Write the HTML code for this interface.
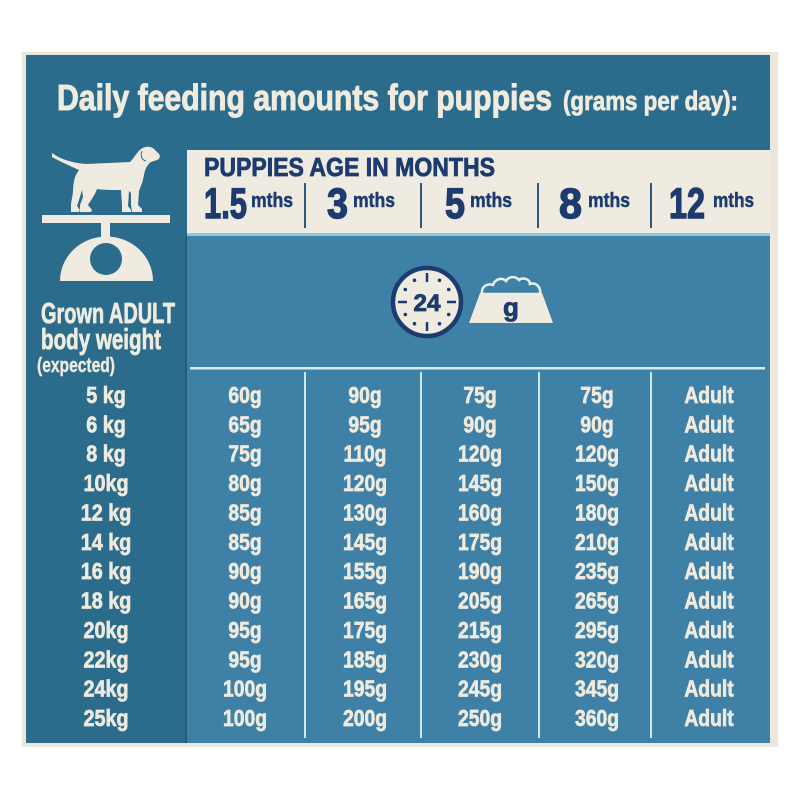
<!DOCTYPE html>
<html><head><meta charset="utf-8"><style>
html,body{margin:0;padding:0;background:#fff;}
svg{display:block;}
text{font-family:"Liberation Sans",sans-serif;font-weight:bold;}
</style></head><body>
<svg width="800" height="800" viewBox="0 0 800 800" xmlns="http://www.w3.org/2000/svg">
<rect x="0" y="0" width="800" height="800" fill="#ffffff"/>
<rect x="22" y="52" width="756" height="695" fill="#ebe7da"/>
<rect x="26" y="55" width="744" height="688" fill="#2b6b8c"/>
<rect x="187" y="235" width="583" height="508" fill="#3f80a7"/>
<rect x="185" y="235" width="2" height="508" fill="#245d7b"/>
<rect x="187" y="150" width="583" height="86" fill="#efebe0"/>
<rect x="187" y="233" width="583" height="3" fill="#8fc6d8"/>

<g fill="#efebdf" stroke="#efebdf" stroke-width="1">
<text x="57" y="110" font-size="36" textLength="495" lengthAdjust="spacingAndGlyphs">Daily feeding amounts for puppies</text>
<text x="563" y="110" font-size="27" stroke-width="0.8" textLength="175" lengthAdjust="spacingAndGlyphs">(grams per day):</text>
</g>

<g fill="#1c3b6f" stroke="#1c3b6f" stroke-width="0.8">
<text x="204" y="176" font-size="26" textLength="291" lengthAdjust="spacingAndGlyphs">PUPPIES AGE IN MONTHS</text>
<text x="204" y="218" font-size="43" stroke-width="1.4" textLength="43" lengthAdjust="spacingAndGlyphs">1.5</text>
<text x="251" y="207" font-size="20" stroke-width="0.5" textLength="42" lengthAdjust="spacingAndGlyphs">mths</text>
<text x="327" y="218" font-size="43" stroke-width="1.4" textLength="21" lengthAdjust="spacingAndGlyphs">3</text>
<text x="353" y="207" font-size="20" stroke-width="0.5" textLength="42" lengthAdjust="spacingAndGlyphs">mths</text>
<text x="445" y="218" font-size="43" stroke-width="1.4" textLength="20" lengthAdjust="spacingAndGlyphs">5</text>
<text x="470" y="207" font-size="20" stroke-width="0.5" textLength="42" lengthAdjust="spacingAndGlyphs">mths</text>
<text x="559" y="218" font-size="43" stroke-width="1.4" textLength="23" lengthAdjust="spacingAndGlyphs">8</text>
<text x="588" y="207" font-size="20" stroke-width="0.5" textLength="42" lengthAdjust="spacingAndGlyphs">mths</text>
<text x="669" y="218" font-size="43" stroke-width="1.4" textLength="36" lengthAdjust="spacingAndGlyphs">12</text>
<text x="713" y="207" font-size="20" stroke-width="0.5" textLength="41" lengthAdjust="spacingAndGlyphs">mths</text>
</g>
<g stroke="#2b5a7e" stroke-width="2">
<line x1="305" y1="183" x2="305" y2="228"/>
<line x1="421" y1="183" x2="421" y2="228"/>
<line x1="538" y1="183" x2="538" y2="228"/>
<line x1="651" y1="183" x2="651" y2="228"/>
</g>

<!-- dog and scale -->
<path fill="#efebe0" d="M52,153 C60,159 72,163 86,164 L130,162 C134,158 137,152 141,149 C145,146 151,146 154,149 L158,153 C161,155 160,159 157,160 L151,162 C147,165 145,169 144,175 C143,181 141,186 139,191 L138,205 L142,209 L142,212 L132,212 L131,205 L131,193 L129,191 L128,206 L131,210 L131,212 L122,212 L122,205 L121,190 C112,190 104,190 97,189 C95,195 91,200 88,205 L92,210 L91,212 L80,212 L80,205 L83,197 L82,190 L79,200 L77,206 L80,210 L79,212 L71,212 L71,204 L73,192 C73,182 75,175 79,170 C70,166 59,161 52,157 Z"/>
<path d="M142,151 C140,156 142,160 146,161" stroke="#2b6b8c" stroke-width="1" fill="none"/>
<rect x="42" y="215" width="128" height="8" fill="#efebe0"/>
<rect x="101" y="222" width="9" height="16" fill="#efebe0"/>
<path d="M60,281 A46,44 0 0 1 153,281 Z" fill="#efebe0"/>
<circle cx="106" cy="259" r="16" fill="#2b6b8c"/>

<g fill="#efebdf" stroke="#efebdf" stroke-width="0.8">
<text x="41" y="323" font-size="29" textLength="134" lengthAdjust="spacingAndGlyphs">Grown ADULT</text>
<text x="41" y="349" font-size="29" textLength="120" lengthAdjust="spacingAndGlyphs">body weight</text>
<text x="37" y="372" font-size="20" stroke-width="0.4" textLength="78" lengthAdjust="spacingAndGlyphs">(expected)</text>
</g>

<!-- clock -->
<circle cx="427" cy="302" r="34" fill="#efebe0" stroke="#1c3b6f" stroke-width="4.5"/>
<g stroke="#1c3b6f" stroke-width="2.5">
<line x1="427" y1="273" x2="427" y2="282"/>
<line x1="427" y1="322" x2="427" y2="331"/>
<line x1="398" y1="302" x2="407" y2="302"/>
<line x1="447" y1="302" x2="456" y2="302"/>
</g>
<g fill="#1c3b6f">
<circle cx="439.5" cy="280.3" r="1.8"/><circle cx="448.7" cy="289.5" r="1.8"/>
<circle cx="448.7" cy="314.5" r="1.8"/><circle cx="439.5" cy="323.7" r="1.8"/>
<circle cx="414.5" cy="323.7" r="1.8"/><circle cx="405.3" cy="314.5" r="1.8"/>
<circle cx="405.3" cy="289.5" r="1.8"/><circle cx="414.5" cy="280.3" r="1.8"/>
<text x="427" y="311" font-size="24" text-anchor="middle" stroke="#1c3b6f" stroke-width="0.8" textLength="27" lengthAdjust="spacingAndGlyphs">24</text>
</g>

<!-- bowl -->
<path d="M482,294 C481,286 488,283 493,285 C495,279 502,277 506,281 C509,276 516,276 519,280 C523,277 530,279 530,284 C536,282 541,287 540,294 Z" fill="#3f80a7" stroke="#e6f1f0" stroke-width="2.5"/>
<polygon points="480,293 542,293 553,323 469,323" fill="#efebe0"/>
<text x="511" y="316" font-size="26" fill="#1c3b6f" stroke="#1c3b6f" stroke-width="0.8" text-anchor="middle">g</text>

<!-- table lines -->
<rect x="190" y="367" width="575" height="2.5" fill="#d5ecf1"/>
<g stroke="#cde8ef" stroke-width="2">
<line x1="305" y1="372" x2="305" y2="738"/>
<line x1="421" y1="372" x2="421" y2="738"/>
<line x1="539" y1="372" x2="539" y2="738"/>
<line x1="651" y1="372" x2="651" y2="738"/>
</g>

<g fill="#eeeade" stroke="#eeeade" stroke-width="0.7" font-size="23" text-anchor="middle">
<g transform="translate(106 0) scale(0.86 1)">
<text x="0" y="403">5 kg</text><text x="0" y="432.4">6 kg</text><text x="0" y="461.7">8 kg</text><text x="0" y="491.1">10kg</text><text x="0" y="520.4">12 kg</text><text x="0" y="549.8">14 kg</text><text x="0" y="579.2">16 kg</text><text x="0" y="608.5">18 kg</text><text x="0" y="637.9">20kg</text><text x="0" y="667.3">22kg</text><text x="0" y="696.6">24kg</text><text x="0" y="726">25kg</text>
</g>
<g transform="translate(245 0) scale(0.84 1)">
<text x="0" y="403">60g</text><text x="0" y="432.4">65g</text><text x="0" y="461.7">75g</text><text x="0" y="491.1">80g</text><text x="0" y="520.4">85g</text><text x="0" y="549.8">85g</text><text x="0" y="579.2">90g</text><text x="0" y="608.5">90g</text><text x="0" y="637.9">95g</text><text x="0" y="667.3">95g</text><text x="0" y="696.6">100g</text><text x="0" y="726">100g</text>
</g>
<g transform="translate(365 0) scale(0.84 1)">
<text x="0" y="403">90g</text><text x="0" y="432.4">95g</text><text x="0" y="461.7">110g</text><text x="0" y="491.1">120g</text><text x="0" y="520.4">130g</text><text x="0" y="549.8">145g</text><text x="0" y="579.2">155g</text><text x="0" y="608.5">165g</text><text x="0" y="637.9">175g</text><text x="0" y="667.3">185g</text><text x="0" y="696.6">195g</text><text x="0" y="726">200g</text>
</g>
<g transform="translate(480 0) scale(0.84 1)">
<text x="0" y="403">75g</text><text x="0" y="432.4">90g</text><text x="0" y="461.7">120g</text><text x="0" y="491.1">145g</text><text x="0" y="520.4">160g</text><text x="0" y="549.8">175g</text><text x="0" y="579.2">190g</text><text x="0" y="608.5">205g</text><text x="0" y="637.9">215g</text><text x="0" y="667.3">230g</text><text x="0" y="696.6">245g</text><text x="0" y="726">250g</text>
</g>
<g transform="translate(597 0) scale(0.84 1)">
<text x="0" y="403">75g</text><text x="0" y="432.4">90g</text><text x="0" y="461.7">120g</text><text x="0" y="491.1">150g</text><text x="0" y="520.4">180g</text><text x="0" y="549.8">210g</text><text x="0" y="579.2">235g</text><text x="0" y="608.5">265g</text><text x="0" y="637.9">295g</text><text x="0" y="667.3">320g</text><text x="0" y="696.6">345g</text><text x="0" y="726">360g</text>
</g>
<g transform="translate(709 0) scale(0.84 1)">
<text x="0" y="403">Adult</text><text x="0" y="432.4">Adult</text><text x="0" y="461.7">Adult</text><text x="0" y="491.1">Adult</text><text x="0" y="520.4">Adult</text><text x="0" y="549.8">Adult</text><text x="0" y="579.2">Adult</text><text x="0" y="608.5">Adult</text><text x="0" y="637.9">Adult</text><text x="0" y="667.3">Adult</text><text x="0" y="696.6">Adult</text><text x="0" y="726">Adult</text>
</g>
</g>
</svg>
</body></html>
